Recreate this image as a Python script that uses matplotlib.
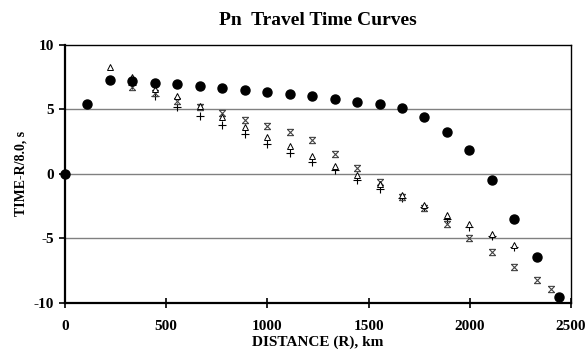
import matplotlib
matplotlib.use("Agg")
from matplotlib import pyplot as plt
from matplotlib.path import Path

# distances (km) and reduced times (s)
dist_dot = [0, 111, 222, 333, 444, 555, 666, 777, 888, 999, 1110, 1221,
            1332, 1443, 1554, 1665, 1776, 1887, 1998, 2109, 2220, 2331, 2442]
time_dot = [0.0, 5.37, 7.29, 7.16, 7.06, 6.93, 6.80, 6.64, 6.51, 6.33, 6.20, 6.02,
            5.81, 5.58, 5.39, 5.08, 4.38, 3.27, 1.82, -0.49, -3.48, -6.46, -9.57]

dist_tri = [222, 333, 444, 555, 666, 777, 888, 999, 1110, 1221,
            1332, 1443, 1554, 1665, 1776, 1887, 1998, 2109, 2220]
time_tri = [8.3, 7.5, 6.6, 6.0, 5.27, 4.43, 3.65, 2.88, 2.15, 1.38,
            0.62, -0.12, -0.8, -1.66, -2.41, -3.22, -3.92, -4.7, -5.55]

dist_star = [333, 444, 555, 666, 777, 888, 999, 1110, 1221, 1332, 1443,
             1554, 1665, 1776, 1887, 1998, 2109, 2220, 2331, 2400]
time_star = [6.7, 6.25, 5.6, 5.2, 4.7, 4.17, 3.73, 3.27, 2.62, 1.53, 0.44,
             -0.62, -1.77, -2.67, -3.87, -4.96, -6.07, -7.2, -8.24, -8.97]

dist_plus = [333, 444, 555, 666, 777, 888, 999, 1110, 1221, 1332, 1443,
             1554, 1665, 1776, 1887, 1998, 2109, 2220]
time_plus = [6.9, 6.05, 5.2, 4.5, 3.76, 3.06, 2.33, 1.58, 0.91, 0.29, -0.48,
             -1.19, -1.9, -2.57, -3.53, -4.13, -4.83, -5.7]

x_ticks = [0, 500, 1000, 1500, 2000, 2500]
y_ticks = [-10, -5, 0, 5, 10]

# x with bars on top and bottom, like the spreadsheet marker
star_marker = Path(
    [(-1, -1), (1, 1), (-1, 1), (1, -1), (-1, 1), (1, 1), (-1, -1), (1, -1)],
    [Path.MOVETO, Path.LINETO, Path.MOVETO, Path.LINETO,
     Path.MOVETO, Path.LINETO, Path.MOVETO, Path.LINETO])

plt.rcParams["font.family"] = ["Liberation Serif", "DejaVu Serif"]
plt.rcParams["axes.unicode_minus"] = False

fig = plt.figure(figsize=(5.87, 3.58), dpi=100)
ax = fig.add_axes([0.1107, 0.1545, 0.862, 0.7205])

for yv in [-5, 0, 5]:
    ax.axhline(yv, color="#808080", linewidth=1.0, zorder=0)

ax.plot(dist_plus, time_plus, linestyle="none", marker="+", markersize=6,
        color="black", markeredgewidth=0.8)
ax.plot(dist_star, time_star, linestyle="none", marker=star_marker, markersize=4.5,
        color="#444444", markeredgewidth=0.8)
ax.plot(dist_tri, time_tri, linestyle="none", marker="^", markersize=5,
        markerfacecolor="white", markeredgecolor="black", markeredgewidth=0.7)
ax.plot(dist_dot, time_dot, linestyle="none", marker="o", markersize=6.5,
        color="black", clip_on=False, zorder=5)

ax.set_xlim(0, 2500)
ax.set_ylim(-10, 10)
ax.set_xticks(x_ticks)
ax.set_yticks(y_ticks)
ax.tick_params(axis="x", direction="inout", length=7, width=1.2, pad=9)
ax.tick_params(axis="y", direction="out", length=4, width=1.2, pad=4)
for lab in ax.get_xticklabels() + ax.get_yticklabels():
    lab.set_fontweight("bold")
    lab.set_fontsize(11)

for side in ["left", "bottom"]:
    ax.spines[side].set_linewidth(1.6)
for side in ["top", "right"]:
    ax.spines[side].set_linewidth(1.0)

ax.set_title("Pn  Travel Time Curves", fontsize=14, fontweight="bold", pad=14)
ax.set_xlabel("DISTANCE (R), km", fontsize=11, fontweight="bold", labelpad=2)
ax.set_ylabel("TIME-R/8.0, s", fontsize=10, fontweight="bold", labelpad=4)

fig.savefig("out.png", dpi=100)
